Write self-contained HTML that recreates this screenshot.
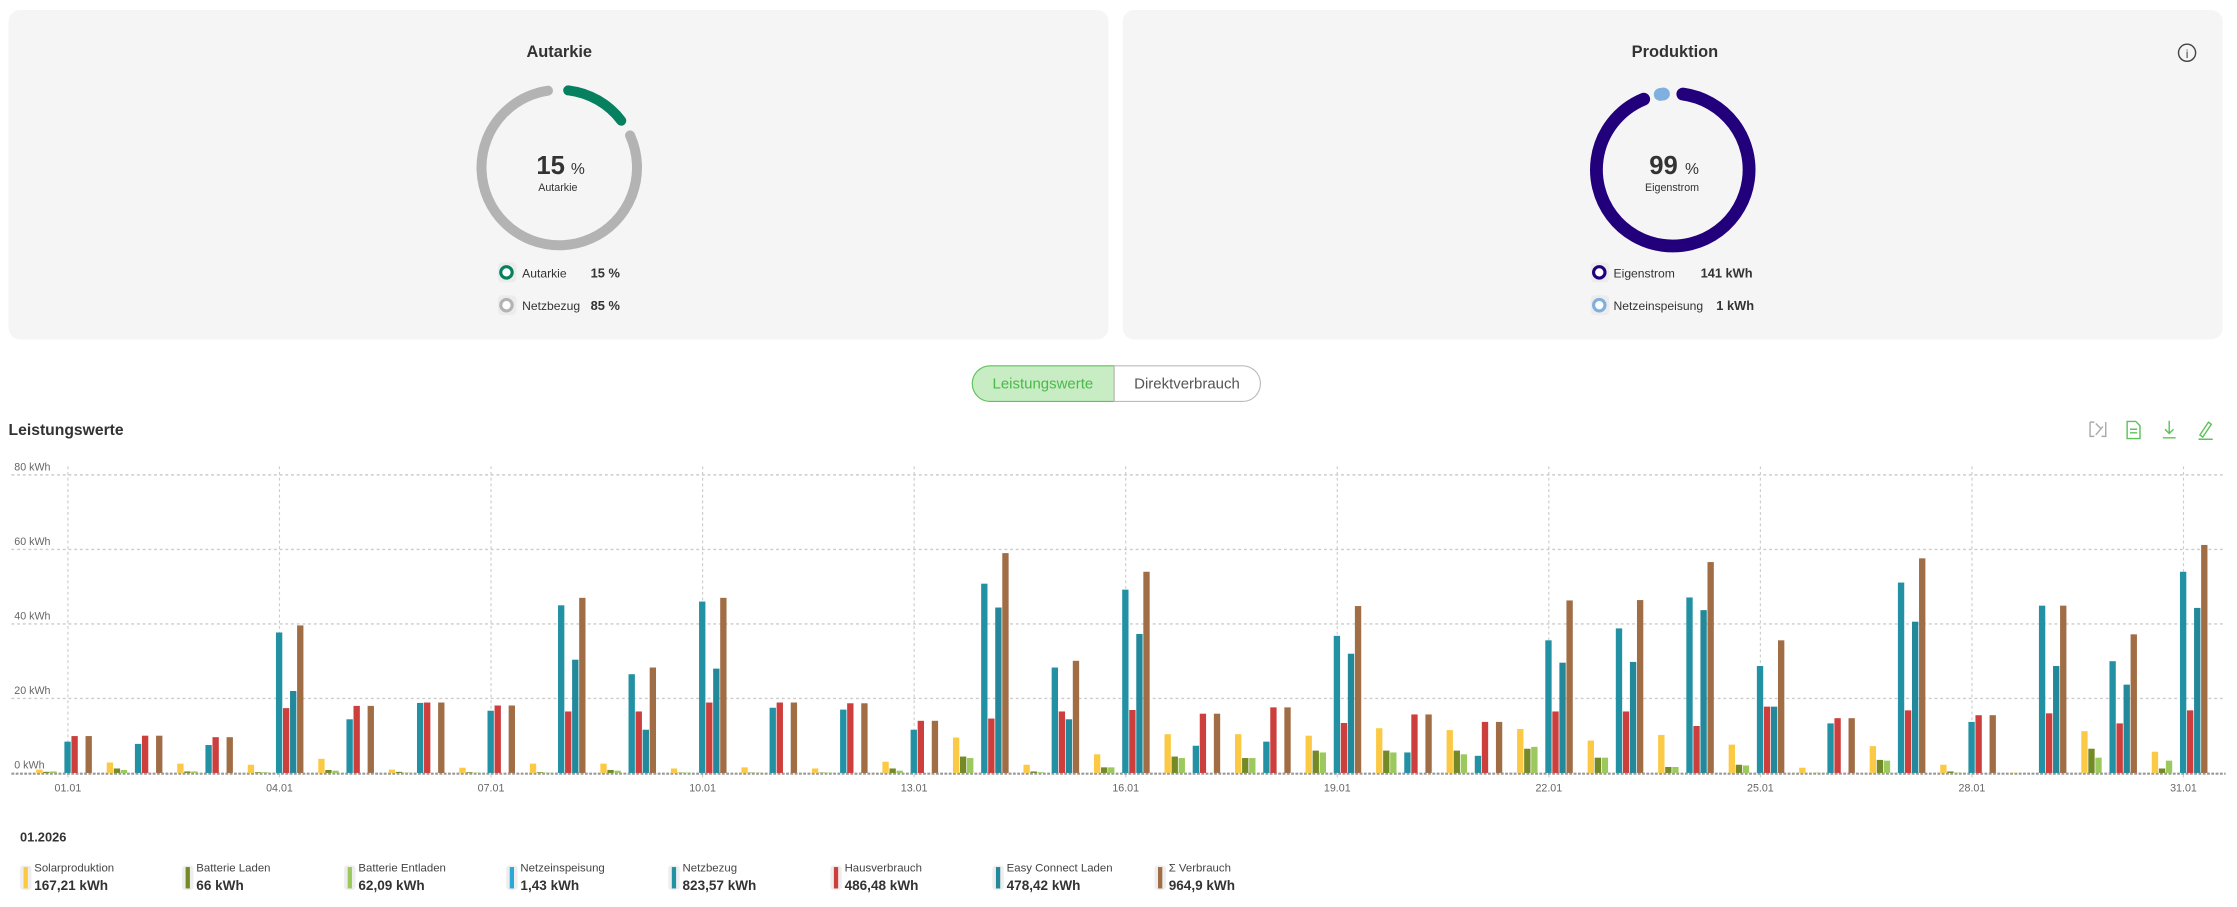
<!DOCTYPE html>
<html><head><meta charset="utf-8">
<style>
html,body{margin:0;padding:0;background:#fff;width:2237px;height:907px;overflow:hidden}
svg{display:block}
text{font-family:"Liberation Sans",sans-serif}
</style></head>
<body>
<svg id="s" width="2237" height="907" viewBox="0 0 1568 636" preserveAspectRatio="none" xmlns="http://www.w3.org/2000/svg">
<!-- cards -->
<rect x="6" y="7" width="771" height="231" rx="8" fill="#f5f5f5"/>
<rect x="787" y="7" width="771" height="231" rx="8" fill="#f5f5f5"/>
<text x="392" y="40" text-anchor="middle" font-size="11.5" fill="#333" font-weight="bold">Autarkie</text>
<text x="1174" y="40" text-anchor="middle" font-size="11.5" fill="#333" font-weight="bold">Produktion</text>
<circle cx="1533" cy="37" r="6" fill="none" stroke="#444" stroke-width="1"/>
<text x="1533" y="40.5" text-anchor="middle" font-size="8.5" fill="#444">i</text>
<!-- donut 1 -->
<circle cx="392" cy="117.5" r="54.5" fill="none" stroke="#b3b3b3" stroke-width="7" stroke-linecap="round" pathLength="360" stroke-dasharray="286 74" transform="rotate(-24 392 117.5)"/>
<circle cx="392" cy="117.5" r="54.5" fill="none" stroke="#06805e" stroke-width="7" stroke-linecap="round" pathLength="360" stroke-dasharray="46 314" transform="rotate(-83 392 117.5)"/>
<text x="386" y="122" text-anchor="middle" font-size="18" font-weight="bold" fill="#333">15</text>
<text x="405" y="122" text-anchor="middle" font-size="11" fill="#333">%</text>
<text x="391" y="134" text-anchor="middle" font-size="7.5" fill="#333">Autarkie</text>
<rect x="349" y="184" width="13" height="14" rx="3" fill="#ececec"/>
<circle cx="355" cy="191" r="4" fill="#fff" stroke="#06805e" stroke-width="2.2"/>
<text x="366" y="194.5" font-size="8.5" fill="#333">Autarkie</text>
<text x="414" y="194.5" font-size="9" fill="#333" font-weight="bold">15 %</text>
<rect x="349" y="207" width="13" height="14" rx="3" fill="#ececec"/>
<circle cx="355" cy="214" r="4" fill="#fff" stroke="#b3b3b3" stroke-width="2.2"/>
<text x="366" y="217.5" font-size="8.5" fill="#333">Netzbezug</text>
<text x="414" y="217.5" font-size="9" fill="#333" font-weight="bold">85 %</text>
<!-- donut 2 -->
<circle cx="1172.5" cy="119" r="53.5" fill="none" stroke="#22007c" stroke-width="9" stroke-linecap="round" pathLength="360" stroke-dasharray="330 30" transform="rotate(-82 1172.5 119)"/>
<circle cx="1172.5" cy="119" r="53.5" fill="none" stroke="#7fb0df" stroke-width="9" stroke-linecap="round" pathLength="360" stroke-dasharray="2 358" transform="rotate(-99 1172.5 119)"/>
<text x="1166" y="122" text-anchor="middle" font-size="18" font-weight="bold" fill="#333">99</text>
<text x="1186" y="122" text-anchor="middle" font-size="11" fill="#333">%</text>
<text x="1172" y="134" text-anchor="middle" font-size="7.5" fill="#333">Eigenstrom</text>
<rect x="1115" y="184" width="13" height="14" rx="3" fill="#ececec"/>
<circle cx="1121" cy="191" r="4" fill="#fff" stroke="#22007c" stroke-width="2.2"/>
<text x="1131" y="194.5" font-size="8.5" fill="#333">Eigenstrom</text>
<text x="1192" y="194.5" font-size="9" fill="#333" font-weight="bold">141 kWh</text>
<rect x="1115" y="207" width="13" height="14" rx="3" fill="#ececec"/>
<circle cx="1121" cy="214" r="4" fill="#fff" stroke="#7fb0df" stroke-width="2.2"/>
<text x="1131" y="217.5" font-size="8.5" fill="#333">Netzeinspeisung</text>
<text x="1203" y="217.5" font-size="9" fill="#333" font-weight="bold">1 kWh</text>
<!-- toggle -->
<path d="M694,256.5 H781 V281.5 H694 A12.5,12.5 0 0 1 694,256.5 Z" fill="#c8ecc4" stroke="#5cc25a" stroke-width="0.8"/>
<path d="M781,256.5 H871 A12.5,12.5 0 0 1 871,281.5 H781 Z" fill="#fff" stroke="#bbb" stroke-width="0.8"/>
<text x="731" y="272.5" text-anchor="middle" font-size="10.5" fill="#4cb84a">Leistungswerte</text>
<text x="832" y="272.5" text-anchor="middle" font-size="10.5" fill="#555">Direktverbrauch</text>
<text x="6" y="305" font-size="11" fill="#333" font-weight="bold">Leistungswerte</text>
<!-- icons -->
<g fill="none" stroke-width="1">
<path d="M1465,296 v10 h3 M1465,296 h3 M1476,296 v10 h-3 M1469,305 l5,-6 M1469,297 l4,4" stroke="#aaa"/>
<path d="M1491,295.5 h6 l3,3 v9 h-9 z M1493,301 h5 M1493,303.5 h5" stroke="#5cc25a"/>
<path d="M1520.5,295 v9 M1517.5,301 l3,3 l3,-3 M1516,307 h9" stroke="#5cc25a"/>
<path d="M1542,305 l6,-9 l2,1.5 l-6,9 z M1541,308 h10" stroke="#5cc25a"/>
</g>
<g id="grid"></g>
<g id="bars"></g>
<g id="lbl" font-size="7.5" fill="#666"></g>
<text x="14" y="590" font-size="9" fill="#333" font-weight="bold">01.2026</text>
<g id="leg"></g>
</svg>
<script>
var NS="http://www.w3.org/2000/svg",s=document.getElementById('s');
function el(p,t,a,txt){var e=document.createElementNS(NS,t);for(var k in a)e.setAttribute(k,a[k]);if(txt)e.textContent=txt;document.getElementById(p).appendChild(e);return e;}
var base=542,k=2.6125;
[0,20,40,60,80].forEach(function(v){var y=base-v*k;
 if(v>0)el('grid','line',{x1:8,x2:1560,y1:y,y2:y,stroke:'#ccc','stroke-width':1,'stroke-dasharray':'2 2'});
 el('lbl','text',{x:10,y:y-3},v+' kWh');});
var x0=47.6,dx=49.43;
for(var d=0;d<31;d+=3){var x=x0+d*dx;
 el('grid','line',{x1:x,x2:x,y1:327,y2:546,stroke:'#ccc','stroke-width':0.8,'stroke-dasharray':'2 2'});
 var dd=(d+1<10?'0':'')+(d+1)+'.01';el('lbl','text',{x:x,y:555,'text-anchor':'middle'},dd);}
el('grid','line',{x1:8,x2:1560,y1:base+0.5,y2:base+0.5,stroke:'#999','stroke-width':1.5,'stroke-dasharray':'2 1'});
var C=['#fbc944','#748a26','#9cc95d','#2aa8d8','#2291a3','#cc3f3c','#23889a','#a16d45'];
var D=[
[0.9,0.3,0.4,0,8.4,9.9,0,9.9],[2.8,1.2,0.8,0,7.8,10,0,10],[2.5,0.4,0.4,0,7.5,9.6,0,9.6],
[2.2,0.2,0.2,0,37.7,17.4,22,39.6],[3.8,0.8,0.6,0,14.4,18,0,18],[0.9,0.3,0.1,0,18.8,18.9,0,18.9],
[1.4,0.2,0.1,0,16.7,18.1,0,18.1],[2.5,0.2,0.1,0,45,16.5,30.4,47],[2.5,0.8,0.6,0,26.5,16.5,11.6,28.3],
[1.2,0.1,0.1,0,46,18.9,28,47],[1.5,0.1,0.1,0,17.5,18.9,0,18.9],[1.2,0.1,0.1,0,17,18.7,0,18.7],
[3,1.2,0.6,0,11.6,14,0,14],[9.5,4.4,4,0,50.8,14.6,44.4,59],[2.2,0.4,0.2,0,28.3,16.5,14.4,30.1],
[5,1.5,1.5,0,49.2,16.9,37.3,54],[10.4,4.4,4,0,7.3,15.9,0,15.9],[10.4,4,4,0,8.4,17.6,0,17.6],
[10,6,5.5,0,36.8,13.4,32,44.8],[12,6,5.5,0,5.5,15.7,0,15.7],[11.5,6,5,0,4.6,13.7,0,13.7],
[11.8,6.5,7,0,35.6,16.5,29.6,46.3],[8.7,4.1,4.1,0,38.8,16.5,29.8,46.4],[10.2,1.6,1.6,0,47.1,12.6,43.7,56.6],
[7.6,2.2,2,0,28.7,17.8,17.8,35.6],[1.4,0,0.1,0,13.3,14.7,0,14.7],[7.2,3.5,3.3,0,51.1,16.8,40.6,57.6],
[2.2,0.4,0.1,0,13.7,15.5,0,15.5],[0.1,0,0,0,44.9,16,28.7,44.9],[11.2,6.5,4.1,0,30,13.3,23.7,37.2],
[5.7,1.2,3.3,0,54,16.8,44.3,61.2]];
var w=4.94;
D.forEach(function(r,d){var st=x0+d*dx-4.5*w;r.forEach(function(v,i){if(v<=0)return;var h=v*k;
 el('bars','rect',{x:(st+i*w).toFixed(2),y:(base-h).toFixed(2),width:w-0.5,height:h.toFixed(2),fill:C[i]});});});
var L=[['Solarproduktion','167,21 kWh'],['Batterie Laden','66 kWh'],['Batterie Entladen','62,09 kWh'],['Netzeinspeisung','1,43 kWh'],['Netzbezug','823,57 kWh'],['Hausverbrauch','486,48 kWh'],['Easy Connect Laden','478,42 kWh'],['Σ Verbrauch','964,9 kWh']];
var LC=['#fbc944','#748a26','#9cc95d','#2aa8d8','#2291a3','#cc3f3c','#23889a','#a16d45'];
L.forEach(function(l,i){var x=14+i*113.6;
 el('leg','rect',{x:x,y:607,width:8,height:17,rx:2,fill:'#eee'});
 el('leg','rect',{x:x+2.5,y:608,width:3,height:15,fill:LC[i]});
 el('leg','text',{x:x+10,y:611,'font-size':8,fill:'#444'},l[0]);
 el('leg','text',{x:x+10,y:624,'font-size':9.5,fill:'#333','font-weight':'bold'},l[1]);});
</script>
</body></html>
